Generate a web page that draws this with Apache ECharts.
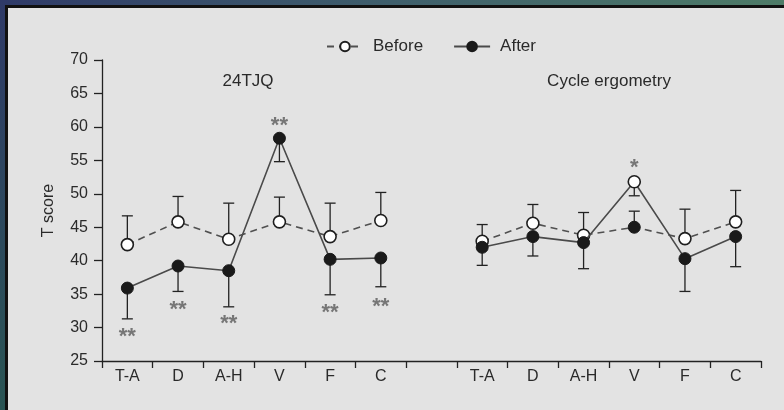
<!DOCTYPE html>
<html>
<head>
<meta charset="utf-8">
<script src="https://cdn.jsdelivr.net/npm/echarts@6/dist/echarts.min.js"></script>
<style>
html,body{margin:0;padding:0;background:#e3e3e3;}
#c{width:784px;height:410px;}
</style>
</head>
<body>
<div id="c"></div>
<script>
// ---- data ----
var categories = ['T-A','D','A-H','V','F','C','','T-A','D','A-H','V','F','C'];
var panelTitles = ['24TJQ','Cycle ergometry'];
var yTicks = [25,30,35,40,45,50,55,60,65,70];
// dashed line series ("Before")
var beforeVals = [42.4, 45.8, 43.2, 45.8, 43.6, 46.0, null, 42.9, 45.6, 43.8, 45.0, 43.3, 45.8];
var beforeErr  = [46.7, 49.6, 48.6, 49.5, 48.6, 50.2, null, 45.4, 48.4, 47.2, 47.4, 47.7, 50.5];
// solid line series ("After")
var afterVals  = [35.9, 39.2, 38.5, 58.3, 40.2, 40.4, null, 42.0, 43.6, 42.7, 51.8, 40.3, 43.6];
var afterErr   = [31.3, 35.4, 33.1, 54.8, 34.9, 36.1, null, 39.3, 40.7, 38.8, 49.7, 35.4, 39.1];
// markers drawn swapped in the original at this category index
var swappedMarkerIdx = [10];
// significance marks
var sigIdx  = [0, 1, 2, 3, 4, 5, 10];
var sigY    = [29.4, 33.4, 31.3, 60.9, 32.9, 33.8, 54.6];
var sigText = ['**','**','**','**','**','**','*'];

// ---- styles ----
var openStyle = {color:'#ffffff', borderColor:'#1e1e1e', borderWidth:1.6};
var fillStyle = {color:'#1a1a1a', borderColor:'#1a1a1a', borderWidth:1};
var FONT = 'Liberation Sans';
var TXT = '#2a2a2a';

function buildLine(vals, baseStyle, altStyle){
  return vals.map(function(v,i){
    if (swappedMarkerIdx.indexOf(i) >= 0) return {value:v, itemStyle:altStyle};
    return v;
  });
}
function errData(vals, errs){
  var out = [];
  vals.forEach(function(v,i){ if (v != null) out.push([i, v, errs[i]]); });
  return out;
}
function errRender(params, api){
  var x = api.coord([api.value(0), api.value(1)]);
  var e = api.coord([api.value(0), api.value(2)]);
  var st = {stroke:'#222', lineWidth:1.3};
  return {type:'group', children:[
    {type:'line', shape:{x1:x[0], y1:x[1], x2:e[0], y2:e[1]}, style:st},
    {type:'line', shape:{x1:e[0]-5.5, y1:e[1], x2:e[0]+5.5, y2:e[1]}, style:st}
  ]};
}

var chart = echarts.init(document.getElementById('c'), null, {renderer:'canvas'});
var option = {
  animation:false,
  backgroundColor:'#e3e3e3',
  graphic:[
    {type:'rect', shape:{x:0,y:0,width:784,height:8}, z:-10, silent:true,
     style:{fill:new echarts.graphic.LinearGradient(0,0,1,0,[{offset:0,color:'#2f3a68'},{offset:0.5,color:'#3f5f6c'},{offset:1,color:'#4e7c68'}])}},
    {type:'rect', shape:{x:0,y:0,width:8,height:410}, z:-10, silent:true,
     style:{fill:new echarts.graphic.LinearGradient(0,0,0,1,[{offset:0,color:'#2f3a68'},{offset:1,color:'#2a5554'}])}},
    {type:'rect', shape:{x:5,y:5,width:779,height:3}, z:-9, silent:true, style:{fill:'#111'}},
    {type:'rect', shape:{x:5,y:5,width:3,height:405}, z:-9, silent:true, style:{fill:'#111'}},
    {type:'text', x:248, y:81, z:10, style:{text:panelTitles[0], fill:TXT, font:'17px '+FONT, textAlign:'center', textVerticalAlign:'middle'}},
    {type:'text', x:609, y:81, z:10, style:{text:panelTitles[1], fill:TXT, font:'17px '+FONT, textAlign:'center', textVerticalAlign:'middle'}}
  ],
  legend:{
    left:321, top:33, itemWidth:36, itemHeight:12, itemGap:30,
    textStyle:{fontFamily:FONT, fontSize:17, color:TXT, padding:[0,0,0,5]},
    data:['Before','After']
  },
  grid:{left:102, right:23, top:60, bottom:49},
  xAxis:{
    type:'category', data:categories, boundaryGap:true,
    axisLine:{lineStyle:{color:'#222', width:1.3}},
    axisTick:{show:true, interval:0, length:7, lineStyle:{color:'#222', width:1.3}},
    axisLabel:{interval:0, margin:8, fontFamily:FONT, fontSize:16, color:TXT}
  },
  yAxis:{
    type:'value', min:yTicks[0], max:yTicks[yTicks.length-1], interval:5,
    name:'T score', nameLocation:'middle', nameGap:45,
    nameTextStyle:{fontFamily:FONT, fontSize:16, color:TXT},
    axisLine:{show:true, lineStyle:{color:'#222', width:1.3}},
    axisTick:{show:true, length:8, lineStyle:{color:'#222', width:1.3}},
    splitLine:{show:false},
    axisLabel:{margin:14, fontFamily:FONT, fontSize:16, color:TXT}
  },
  series:[
    {type:'custom', name:'errB', renderItem:errRender, data:errData(beforeVals, beforeErr), z:1, silent:true,
     encode:{x:0, y:[1,2]}},
    {type:'custom', name:'errA', renderItem:errRender, data:errData(afterVals, afterErr), z:1, silent:true,
     encode:{x:0, y:[1,2]}},
    {type:'line', name:'Before', data:buildLine(beforeVals, openStyle, fillStyle), z:3,
     symbol:'circle', symbolSize:12, showAllSymbol:true,
     lineStyle:{color:'#505050', width:1.6, type:[7,5]},
     itemStyle:openStyle},
    {type:'line', name:'After', data:buildLine(afterVals, fillStyle, openStyle), z:4,
     symbol:'circle', symbolSize:12, showAllSymbol:true,
     lineStyle:{color:'#4a4a4a', width:1.6},
     itemStyle:fillStyle},
    {type:'scatter', name:'sig', symbolSize:1, z:5, silent:true,
     itemStyle:{color:'rgba(0,0,0,0)'},
     data:sigIdx.map(function(c,i){return {value:[c, sigY[i]], label:{formatter:sigText[i]}};}),
     label:{show:true, position:'inside', fontFamily:FONT, fontSize:22, fontWeight:'bold', color:'#5a5a5a', offset:[0,5]}}
  ]
};
chart.setOption(option);
</script>
</body>
</html>
